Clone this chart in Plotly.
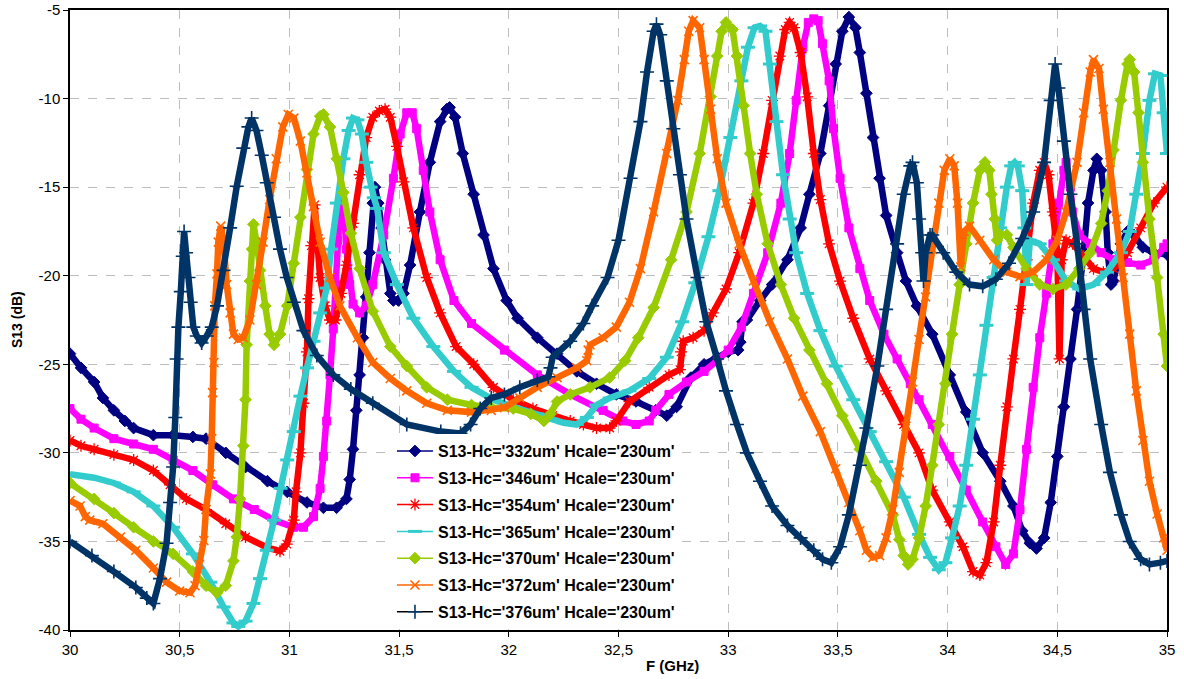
import plotly.graph_objects as go

# ---------------- data ----------------
F_332 = [30.00, 30.05, 30.11, 30.15, 30.20, 30.25, 30.29, 30.38, 30.47, 30.56, 30.62, 30.71, 30.80, 30.90, 30.99, 31.08, 31.155, 31.215, 31.26, 31.275, 31.29, 31.305, 31.32, 31.335, 31.35, 31.365, 31.38, 31.39, 31.405, 31.42, 31.436, 31.46, 31.474, 31.497, 31.52, 31.55, 31.595, 31.64, 31.687, 31.717, 31.73, 31.755, 31.79, 31.84, 31.885, 31.93, 31.99, 32.04, 32.13, 32.22, 32.31, 32.40, 32.49, 32.58, 32.67, 32.72, 32.765, 32.83, 32.89, 32.95, 33.00, 33.045, 33.055, 33.065, 33.085, 33.145, 33.20, 33.27, 33.33, 33.37, 33.42, 33.46, 33.49, 33.52, 33.55, 33.58, 33.60, 33.63, 33.66, 33.69, 33.72, 33.77, 33.81, 33.86, 33.93, 34.01, 34.085, 34.16, 34.24, 34.30, 34.34, 34.375, 34.405, 34.44, 34.47, 34.50, 34.53, 34.56, 34.59, 34.62, 34.64, 34.665, 34.68, 34.70, 34.72, 34.73, 34.745, 34.756, 34.79, 34.82, 34.85, 34.89, 34.94, 35.00]
S13_332 = [-24.4, -25.2, -26.0, -26.9, -27.6, -28.2, -28.6, -29.0, -29.0, -29.1, -29.2, -30.0, -30.8, -31.6, -32.2, -32.8, -33.1, -33.1, -32.6, -31.5, -29.8, -27.6, -25.6, -23.5, -21.2, -18.7, -15.9, -15.0, -15.9, -17.3, -19.1, -21.0, -21.4, -21.4, -21.0, -19.4, -16.4, -13.6, -11.3, -10.6, -10.5, -11.05, -13.1, -15.4, -17.7, -19.6, -21.4, -22.4, -23.5, -24.4, -25.4, -26.1, -26.7, -27.1, -27.6, -27.9, -27.4, -25.75, -25.0, -24.6, -24.3, -24.2, -23.75, -22.6, -22.5, -21.4, -20.5, -19.1, -17.3, -15.4, -13.1, -10.4, -8.05, -6.2, -5.4, -6.0, -7.4, -9.7, -12.2, -14.5, -16.6, -18.7, -20.3, -21.7, -23.3, -25.6, -27.7, -30.0, -31.6, -33.0, -34.4, -35.1, -35.4, -34.8, -32.8, -30.2, -27.4, -24.7, -21.9, -18.7, -15.9, -14.05, -13.4, -14.05, -16.4, -18.7, -20.5, -20.3, -18.2, -17.5, -17.7, -18.4, -18.7, -18.8]

F_346 = [30.00, 30.05, 30.11, 30.20, 30.29, 30.38, 30.47, 30.56, 30.65, 30.745, 30.84, 30.93, 31.02, 31.064, 31.11, 31.14, 31.155, 31.17, 31.185, 31.20, 31.21, 31.22, 31.23, 31.24, 31.25, 31.26, 31.275, 31.29, 31.32, 31.35, 31.38, 31.43, 31.474, 31.505, 31.535, 31.56, 31.58, 31.61, 31.64, 31.687, 31.75, 31.83, 31.98, 32.13, 32.28, 32.43, 32.52, 32.58, 32.64, 32.67, 32.73, 32.81, 32.89, 32.95, 33.00, 33.06, 33.115, 33.18, 33.24, 33.28, 33.31, 33.34, 33.365, 33.39, 33.41, 33.43, 33.46, 33.48, 33.51, 33.55, 33.60, 33.645, 33.71, 33.77, 33.83, 33.87, 33.93, 34.01, 34.085, 34.16, 34.22, 34.265, 34.30, 34.33, 34.36, 34.39, 34.42, 34.45, 34.48, 34.505, 34.53, 34.54, 34.56, 34.57, 34.60, 34.65, 34.70, 34.756, 34.82, 34.88, 34.94, 34.985, 35.00]
S13_346 = [-27.5, -28.1, -28.6, -29.2, -29.5, -29.8, -30.4, -31.0, -31.8, -32.6, -33.2, -33.8, -34.2, -34.2, -33.6, -32.0, -30.2, -28.2, -25.6, -23.0, -20.5, -18.0, -16.2, -15.5, -16.5, -18.5, -20.5, -21.6, -22.1, -21.7, -20.5, -17.7, -14.5, -12.0, -10.8, -10.8, -11.7, -14.05, -16.4, -19.1, -21.4, -22.7, -24.2, -25.6, -26.7, -27.6, -28.2, -28.4, -28.2, -27.6, -26.7, -26.0, -25.4, -24.8, -24.2, -22.9, -21.0, -18.7, -15.9, -13.1, -10.1, -7.1, -5.7, -5.5, -5.6, -6.9, -9.0, -11.7, -14.5, -17.3, -19.6, -21.4, -23.3, -24.7, -26.1, -27.0, -28.4, -30.2, -32.1, -33.9, -35.3, -36.3, -35.7, -33.2, -29.8, -26.3, -23.5, -21.0, -18.2, -15.9, -14.05, -13.6, -15.0, -16.4, -17.7, -18.2, -18.7, -19.1, -19.25, -19.4, -19.1, -18.4, -18.2]

F_354 = [30.00, 30.05, 30.11, 30.20, 30.29, 30.38, 30.456, 30.53, 30.62, 30.71, 30.80, 30.90, 30.957, 30.988, 31.02, 31.03, 31.05, 31.064, 31.08, 31.087, 31.10, 31.115, 31.125, 31.14, 31.163, 31.185, 31.21, 31.235, 31.26, 31.29, 31.32, 31.35, 31.38, 31.41, 31.436, 31.46, 31.49, 31.52, 31.565, 31.626, 31.687, 31.76, 31.84, 31.93, 32.02, 32.11, 32.20, 32.28, 32.34, 32.40, 32.46, 32.49, 32.55, 32.64, 32.73, 32.78, 32.785, 32.795, 32.84, 32.89, 32.93, 32.99, 33.05, 33.115, 33.16, 33.20, 33.235, 33.26, 33.28, 33.30, 33.33, 33.36, 33.39, 33.42, 33.46, 33.51, 33.57, 33.645, 33.72, 33.80, 33.87, 33.93, 34.01, 34.07, 34.116, 34.147, 34.177, 34.21, 34.24, 34.27, 34.30, 34.33, 34.36, 34.39, 34.42, 34.44, 34.46, 34.48, 34.50, 34.51, 34.52, 34.54, 34.57, 34.62, 34.665, 34.71, 34.756, 34.82, 34.88, 34.94, 35.00]
S13_354 = [-29.3, -29.6, -29.8, -30.1, -30.4, -31.0, -31.8, -32.6, -33.2, -34.0, -34.75, -35.35, -35.55, -35.15, -33.8, -32.2, -30.0, -27.2, -24.3, -21.3, -18.3, -16.0, -17.7, -20.1, -21.7, -22.5, -22.5, -21.0, -19.4, -17.05, -14.3, -12.2, -11.05, -10.7, -10.6, -11.05, -12.7, -14.7, -17.3, -20.1, -22.1, -24.0, -25.0, -26.3, -27.0, -27.5, -27.9, -28.2, -28.4, -28.6, -28.6, -28.2, -27.1, -26.3, -25.6, -25.3, -24.3, -23.7, -23.5, -23.1, -22.1, -20.75, -18.7, -15.9, -13.1, -10.1, -7.6, -6.1, -5.7, -6.0, -7.4, -9.9, -13.1, -15.7, -18.2, -20.3, -22.4, -24.7, -26.5, -28.4, -30.0, -32.1, -33.9, -35.3, -36.7, -36.9, -36.2, -33.9, -30.7, -27.4, -24.7, -21.9, -19.1, -15.9, -14.05, -13.6, -14.3, -16.4, -18.7, -24.7, -19.1, -18.0, -18.2, -18.9, -19.6, -19.8, -19.6, -18.7, -17.3, -15.9, -15.0]

F_365 = [30.00, 30.11, 30.20, 30.29, 30.38, 30.47, 30.56, 30.64, 30.70, 30.745, 30.767, 30.80, 30.836, 30.866, 30.897, 30.93, 30.96, 30.99, 31.02, 31.05, 31.08, 31.11, 31.14, 31.17, 31.19, 31.216, 31.246, 31.27, 31.29, 31.31, 31.33, 31.35, 31.37, 31.385, 31.40, 31.43, 31.49, 31.565, 31.656, 31.75, 31.83, 31.93, 32.02, 32.13, 32.25, 32.31, 32.356, 32.40, 32.46, 32.55, 32.64, 32.72, 32.79, 32.85, 32.91, 32.96, 33.01, 33.06, 33.09, 33.12, 33.145, 33.17, 33.19, 33.22, 33.25, 33.28, 33.31, 33.36, 33.42, 33.49, 33.57, 33.645, 33.72, 33.80, 33.87, 33.92, 33.96, 33.99, 34.02, 34.055, 34.085, 34.116, 34.147, 34.177, 34.21, 34.24, 34.27, 34.29, 34.306, 34.32, 34.34, 34.35, 34.36, 34.375, 34.42, 34.48, 34.54, 34.60, 34.665, 34.726, 34.79, 34.83, 34.86, 34.89, 34.92, 34.945, 34.97, 34.985, 35.00]
S13_365 = [-31.2, -31.4, -31.7, -32.2, -33.0, -34.2, -35.7, -37.3, -38.7, -39.6, -39.8, -39.5, -38.5, -37.1, -35.5, -33.8, -32.0, -30.4, -28.8, -26.8, -25.2, -23.7, -22.1, -20.7, -18.5, -15.9, -13.4, -11.8, -11.1, -11.2, -12.0, -13.6, -15.0, -15.6, -16.2, -18.7, -20.5, -22.4, -24.0, -25.4, -26.3, -27.0, -27.4, -27.8, -28.3, -28.4, -28.0, -27.3, -26.9, -26.5, -25.8, -24.6, -22.6, -20.4, -17.8, -15.2, -12.2, -9.0, -7.1, -6.0, -5.9, -6.2, -8.05, -11.3, -14.3, -16.8, -18.7, -21.0, -23.1, -25.1, -27.0, -28.8, -30.5, -32.5, -34.6, -35.9, -36.6, -36.2, -34.8, -33.0, -30.7, -28.1, -25.6, -22.8, -20.1, -17.3, -15.0, -13.8, -13.6, -13.8, -15.2, -17.3, -20.5, -18.0, -18.2, -19.1, -20.3, -20.75, -20.5, -19.8, -18.7, -17.5, -15.4, -13.1, -10.1, -8.6, -8.7, -10.8, -13.1]

F_370 = [30.00, 30.11, 30.20, 30.29, 30.38, 30.47, 30.56, 30.62, 30.67, 30.71, 30.745, 30.76, 30.775, 30.79, 30.80, 30.805, 30.82, 30.83, 30.836, 30.85, 30.866, 30.89, 30.91, 30.93, 30.957, 30.99, 31.02, 31.05, 31.08, 31.11, 31.14, 31.155, 31.185, 31.216, 31.246, 31.28, 31.32, 31.38, 31.46, 31.535, 31.626, 31.72, 31.83, 31.92, 32.02, 32.10, 32.16, 32.19, 32.22, 32.28, 32.37, 32.46, 32.53, 32.59, 32.66, 32.74, 32.81, 32.87, 32.92, 32.95, 32.97, 32.99, 33.02, 33.04, 33.07, 33.10, 33.13, 33.18, 33.24, 33.30, 33.37, 33.45, 33.52, 33.60, 33.675, 33.75, 33.78, 33.80, 33.82, 33.84, 33.87, 33.90, 33.93, 33.96, 33.99, 34.02, 34.055, 34.085, 34.116, 34.147, 34.17, 34.19, 34.20, 34.215, 34.225, 34.24, 34.27, 34.30, 34.36, 34.42, 34.48, 34.54, 34.60, 34.65, 34.70, 34.73, 34.756, 34.79, 34.82, 34.83, 34.85, 34.87, 34.89, 34.92, 34.955, 34.985, 35.00]
S13_370 = [-31.7, -32.6, -33.4, -34.2, -35.0, -35.7, -36.7, -37.5, -37.9, -37.5, -36.1, -34.75, -32.6, -29.6, -27.0, -23.9, -20.3, -18.5, -17.1, -18.1, -19.7, -21.7, -23.3, -23.9, -23.3, -21.7, -19.3, -16.7, -14.0, -12.0, -11.0, -10.9, -11.6, -13.4, -15.3, -17.6, -19.6, -22.0, -24.0, -25.1, -26.3, -27.0, -27.3, -27.45, -27.5, -27.8, -28.2, -27.8, -27.1, -26.7, -26.3, -25.75, -24.8, -23.5, -21.8, -19.1, -16.4, -13.1, -9.9, -7.6, -6.2, -5.7, -6.1, -7.6, -10.4, -13.1, -15.4, -18.2, -20.5, -22.4, -24.2, -26.1, -27.9, -29.8, -31.6, -33.5, -34.9, -35.8, -36.3, -36.0, -34.8, -33.0, -30.7, -28.4, -26.1, -23.3, -20.5, -18.2, -15.9, -14.05, -13.6, -14.05, -15.4, -16.8, -18.0, -17.7, -17.7, -18.4, -19.6, -20.5, -20.75, -20.5, -19.6, -18.7, -17.05, -15.2, -12.9, -10.1, -8.05, -7.8, -8.5, -10.8, -13.6, -16.8, -20.1, -23.3, -25.1]

F_372 = [30.00, 30.046, 30.07, 30.09, 30.15, 30.23, 30.30, 30.38, 30.44, 30.50, 30.547, 30.57, 30.59, 30.61, 30.62, 30.64, 30.646, 30.65, 30.656, 30.66, 30.67, 30.676, 30.687, 30.70, 30.714, 30.73, 30.745, 30.767, 30.79, 30.82, 30.85, 30.88, 30.91, 30.94, 30.97, 30.995, 31.02, 31.05, 31.08, 31.11, 31.14, 31.185, 31.23, 31.31, 31.38, 31.46, 31.535, 31.626, 31.72, 31.83, 31.92, 31.98, 32.05, 32.13, 32.22, 32.31, 32.356, 32.362, 32.37, 32.43, 32.49, 32.55, 32.60, 32.66, 32.72, 32.77, 32.80, 32.82, 32.84, 32.87, 32.89, 32.92, 32.95, 32.99, 33.05, 33.115, 33.19, 33.27, 33.34, 33.42, 33.49, 33.55, 33.60, 33.63, 33.66, 33.69, 33.72, 33.75, 33.78, 33.81, 33.84, 33.87, 33.90, 33.93, 33.96, 33.985, 34.01, 34.03, 34.045, 34.06, 34.075, 34.10, 34.147, 34.21, 34.27, 34.33, 34.39, 34.45, 34.50, 34.54, 34.59, 34.62, 34.65, 34.665, 34.69, 34.71, 34.74, 34.77, 34.80, 34.83, 34.86, 34.89, 34.92, 34.955, 34.985, 35.00]
S13_372 = [-32.7, -33.0, -33.6, -33.8, -34.0, -34.75, -35.5, -36.5, -37.3, -37.8, -37.9, -37.5, -36.3, -34.95, -33.2, -31.2, -29.2, -26.6, -24.9, -21.7, -19.9, -18.1, -17.2, -18.1, -20.5, -22.1, -23.3, -23.6, -23.5, -22.5, -20.5, -18.1, -15.7, -13.4, -11.6, -10.9, -11.1, -12.4, -14.2, -16.1, -18.1, -20.1, -21.7, -23.5, -24.9, -25.8, -26.5, -27.2, -27.6, -27.7, -27.6, -27.45, -26.9, -26.3, -25.75, -25.2, -24.8, -24.2, -23.9, -23.5, -22.9, -21.5, -19.6, -16.4, -13.1, -10.1, -7.8, -6.2, -5.6, -6.0, -7.8, -10.6, -13.4, -15.9, -18.2, -20.3, -22.6, -24.7, -26.8, -28.8, -30.9, -32.8, -34.4, -35.5, -35.9, -35.8, -34.8, -33.2, -31.1, -28.5, -26.0, -23.6, -21.2, -18.5, -15.9, -14.05, -13.4, -13.8, -15.9, -19.5, -17.5, -17.2, -18.0, -19.1, -19.8, -20.05, -19.8, -19.1, -18.0, -16.4, -13.6, -10.8, -8.5, -7.8, -8.3, -10.6, -13.6, -16.8, -20.1, -23.3, -26.5, -29.3, -31.6, -33.45, -34.8, -35.5]

F_376 = [30.00, 30.10, 30.20, 30.30, 30.35, 30.38, 30.41, 30.44, 30.456, 30.47, 30.48, 30.486, 30.494, 30.505, 30.514, 30.52, 30.529, 30.54, 30.55, 30.562, 30.578, 30.60, 30.623, 30.646, 30.67, 30.70, 30.73, 30.76, 30.79, 30.813, 30.828, 30.85, 30.874, 30.897, 30.93, 30.957, 30.988, 31.02, 31.064, 31.125, 31.20, 31.28, 31.38, 31.535, 31.69, 31.78, 31.826, 31.87, 31.92, 31.98, 32.05, 32.13, 32.18, 32.19, 32.20, 32.28, 32.34, 32.38, 32.45, 32.50, 32.555, 32.60, 32.63, 32.66, 32.673, 32.69, 32.72, 32.75, 32.78, 32.81, 32.86, 32.90, 32.95, 32.99, 33.04, 33.085, 33.145, 33.20, 33.27, 33.33, 33.39, 33.43, 33.47, 33.51, 33.55, 33.60, 33.63, 33.68, 33.72, 33.77, 33.80, 33.83, 33.84, 33.86, 33.87, 33.884, 33.89, 33.90, 33.92, 33.93, 33.98, 34.04, 34.10, 34.16, 34.22, 34.28, 34.34, 34.39, 34.44, 34.47, 34.49, 34.505, 34.53, 34.56, 34.59, 34.62, 34.65, 34.70, 34.74, 34.79, 34.83, 34.88, 34.92, 34.97, 35.00]
S13_376 = [-35.0, -35.8, -36.7, -37.6, -38.2, -38.5, -37.1, -35.1, -32.8, -30.8, -28.0, -24.7, -22.9, -20.9, -18.9, -17.5, -18.7, -20.1, -21.5, -22.9, -23.4, -23.8, -23.4, -22.9, -21.7, -19.7, -17.3, -14.95, -12.8, -11.6, -11.1, -11.8, -13.2, -14.75, -16.7, -18.5, -20.1, -21.5, -23.1, -24.5, -25.6, -26.4, -27.2, -28.4, -28.8, -28.9, -28.4, -27.5, -26.9, -26.7, -26.3, -25.9, -25.7, -25.2, -24.6, -23.7, -22.7, -21.7, -20.1, -18.0, -14.5, -11.3, -8.5, -6.2, -5.8, -6.4, -9.0, -11.7, -14.3, -16.8, -20.1, -22.6, -24.7, -26.5, -28.4, -30.0, -31.6, -33.0, -34.1, -34.8, -35.5, -36.0, -36.2, -35.3, -33.5, -30.7, -28.6, -25.1, -21.9, -18.2, -15.4, -13.8, -13.6, -14.75, -16.8, -18.7, -20.3, -18.7, -17.7, -17.7, -18.7, -19.8, -20.5, -20.6, -20.2, -19.3, -17.9, -16.4, -13.6, -10.1, -8.05, -9.4, -12.4, -15.4, -18.2, -21.9, -24.7, -28.4, -31.1, -33.5, -35.0, -36.0, -36.3, -36.2, -36.1]

SERIES_NAMES = ["S13-Hc='332um' Hcale='230um'", "S13-Hc='346um' Hcale='230um'",
                "S13-Hc='354um' Hcale='230um'", "S13-Hc='365um' Hcale='230um'",
                "S13-Hc='370um' Hcale='230um'", "S13-Hc='372um' Hcale='230um'",
                "S13-Hc='376um' Hcale='230um'"]
X_TICKS = [30, 30.5, 31, 31.5, 32, 32.5, 33, 33.5, 34, 34.5, 35]
X_TICK_TEXT = ["30", "30,5", "31", "31,5", "32", "32,5", "33", "33,5", "34", "34,5", "35"]
Y_TICKS = [-40, -35, -30, -25, -20, -15, -10, -5]
Y_TICK_TEXT = ["-40", "-35", "-30", "-25", "-20", "-15", "-10", "-5"]

data = [(F_332, S13_332), (F_346, S13_346), (F_354, S13_354), (F_365, S13_365),
        (F_370, S13_370), (F_372, S13_372), (F_376, S13_376)]
for f, s in data:
    assert len(f) == len(s), (len(f), len(s))

# ---------------- styles ----------------
styles = [
    dict(color="#000080", symbol="diamond", size=9, mline="#000080", mw=1),
    dict(color="#FF00FF", symbol="square", size=8, mline="#FF00FF", mw=1),
    dict(color="#FF0000", symbol="asterisk-open", size=10, mline="#FF0000", mw=1.3),
    dict(color="#33CCCC", symbol="line-ew-open", size=10, mline="#33CCCC", mw=3),
    dict(color="#99CC00", symbol="diamond", size=9, mline="#99CC00", mw=1),
    dict(color="#FF6600", symbol="x-thin-open", size=9, mline="#FF6600", mw=1.6),
    dict(color="#003366", symbol="cross-thin-open", size=10, mline="#003366", mw=1.6),
]
legend_line = ["#000080", "#FF00FF", "#FF0000", "#33CCCC", "#99CC00", "#FF6600", "#000000"]

FONT = "Liberation Sans, Arial, sans-serif"

fig = go.Figure()
for (f, s), st in zip(data, styles):
    fig.add_trace(go.Scatter(
        x=f, y=s, mode="lines+markers", showlegend=False, hoverinfo="skip",
        line=dict(color=st["color"], width=6.5),
        marker=dict(symbol=st["symbol"], size=st["size"], color=st["color"],
                    line=dict(color=st["mline"], width=st["mw"])),
    ))

for i, (st, name) in enumerate(zip(styles, SERIES_NAMES)):
    fig.add_trace(go.Scatter(
        x=[None], y=[None], mode="lines+markers", name=name, legendgroup=str(i),
        line=dict(color=legend_line[i], width=1.5),
        marker=dict(symbol=st["symbol"], size=st["size"], color=st["color"],
                    line=dict(color=st["mline"], width=st["mw"])),
    ))

axis_common = dict(
    showgrid=True, griddash="dash", gridcolor="#BDBDBD", gridwidth=1,
    showline=True, linecolor="#000000", linewidth=1.5, mirror=True,
    ticks="outside", ticklen=5, tickcolor="#000000", tickwidth=1,
    zeroline=False, automargin=False,
    tickfont=dict(family=FONT, size=15, color="#000000"),
)

fig.update_layout(
    width=1184, height=679,
    margin=dict(l=70, r=17, t=10, b=49),
    paper_bgcolor="#FFFFFF", plot_bgcolor="#FFFFFF",
    xaxis=dict(range=[30, 35], tickmode="array", tickvals=X_TICKS, ticktext=X_TICK_TEXT, **axis_common),
    yaxis=dict(range=[-40, -5], tickmode="array", tickvals=Y_TICKS, ticktext=Y_TICK_TEXT, **axis_common),
    legend=dict(x=0.2935, y=0.316, xanchor="left", yanchor="top", bgcolor="#FFFFFF",
                borderwidth=0, tracegroupgap=3, itemwidth=36,
                font=dict(family=FONT, size=16, color="#000000", weight="bold")),
    annotations=[
        dict(text="<b>F (GHz)</b>", xref="paper", yref="paper", x=0.549, y=0,
             yshift=-35, xanchor="center", yanchor="middle", showarrow=False,
             font=dict(family=FONT, size=15, color="#000000")),
        dict(text="<b>S13 (dB)</b>", xref="paper", yref="paper", x=0, y=0.5,
             xshift=-53, xanchor="center", yanchor="middle", showarrow=False, textangle=-90,
             font=dict(family=FONT, size=14, color="#000000")),
    ],
)

fig.write_html("out.html", config={"displayModeBar": False},
               post_script="document.body.style.margin='0px';document.body.style.overflow='hidden';")
